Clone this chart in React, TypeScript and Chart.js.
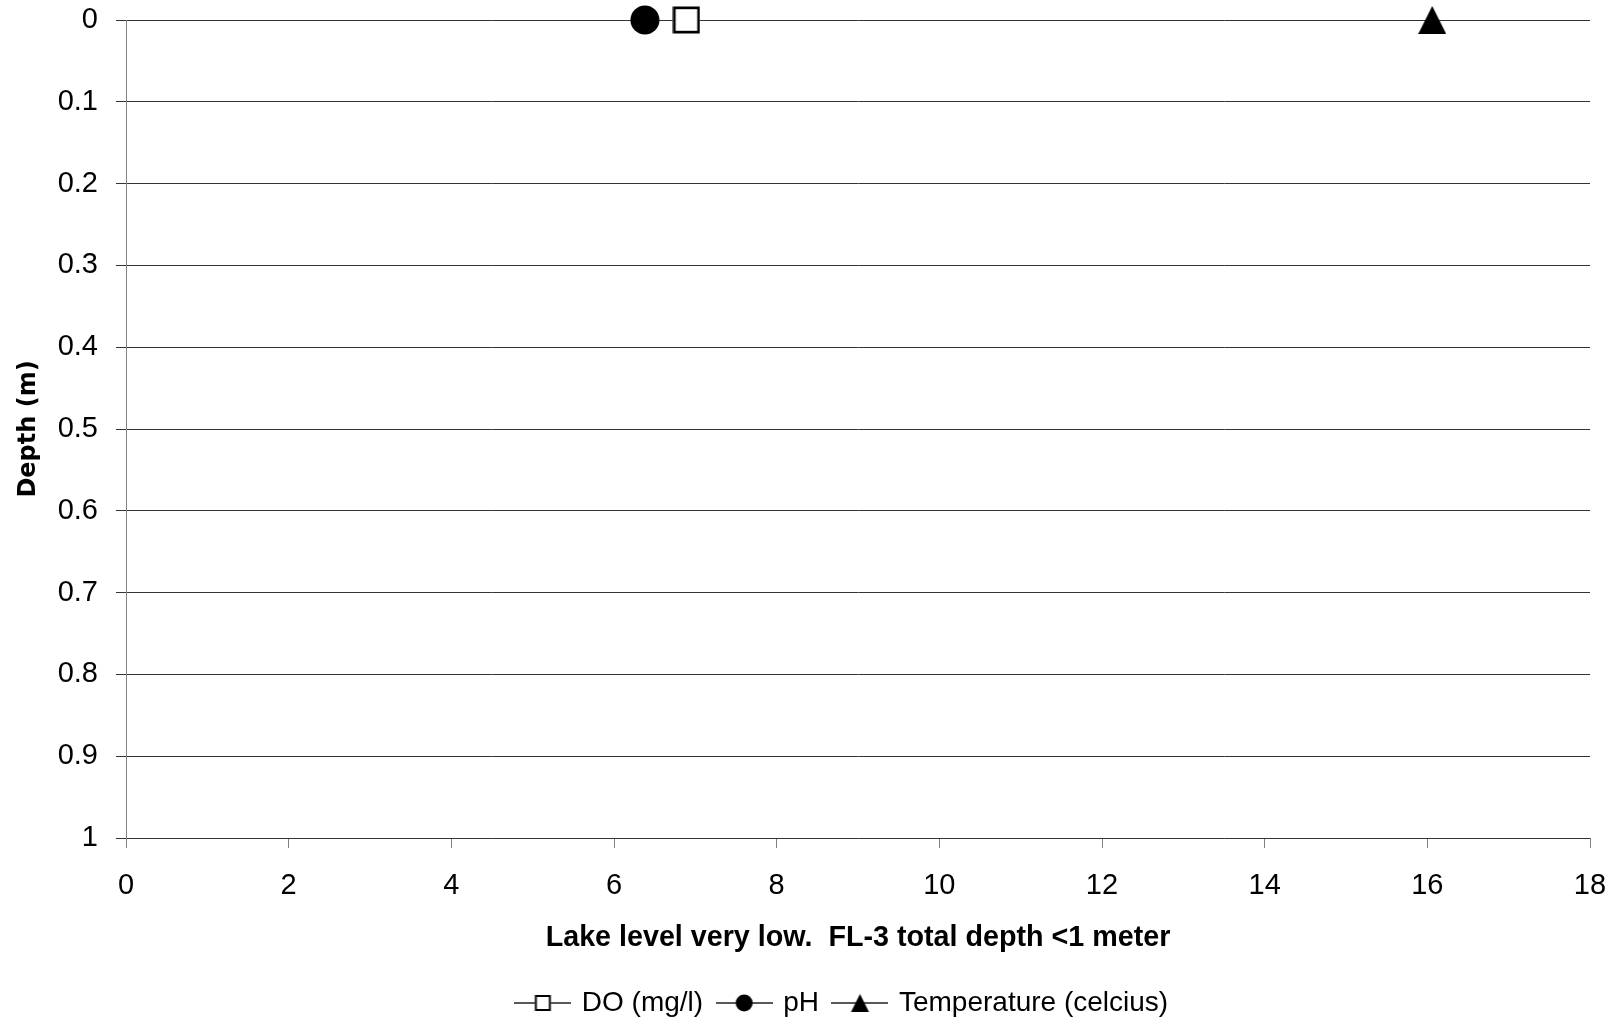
import React, { useEffect, useRef } from 'react';
import { Chart, registerables } from 'chart.js';

Chart.register(...registerables);

// ---- data ----
const depths = [0];
const doValues = [6.89];
const phValues = [6.38];
const tempValues = [16.06];
const seriesLabels = ['DO (mg/l)', 'pH', 'Temperature (celcius)'];
const xTickValues = [0, 2, 4, 6, 8, 10, 12, 14, 16, 18];
const xTickLabels = ['0', '2', '4', '6', '8', '10', '12', '14', '16', '18'];
const yTickValues = [0, 0.1, 0.2, 0.3, 0.4, 0.5, 0.6, 0.7, 0.8, 0.9, 1];
const yTickLabels = ['0', '0.1', '0.2', '0.3', '0.4', '0.5', '0.6', '0.7', '0.8', '0.9', '1'];
const xTitle = 'Lake level very low.  FL-3 total depth <1 meter';
const yTitle = 'Depth (m)';

type Kind = 'square' | 'circle' | 'triangle';

function drawShape(ctx: CanvasRenderingContext2D, kind: Kind, cx: number, cy: number, size: number, lw: number) {
  ctx.save();
  if (kind === 'square') {
    const h = size / 2;
    ctx.fillStyle = '#fff';
    ctx.fillRect(cx - h, cy - h, size, size);
    ctx.strokeStyle = '#000';
    ctx.lineWidth = lw;
    ctx.strokeRect(cx - h + lw / 2, cy - h + lw / 2, size - lw, size - lw);
  } else if (kind === 'circle') {
    ctx.fillStyle = '#000';
    ctx.beginPath();
    ctx.arc(cx, cy, size / 2, 0, Math.PI * 2);
    ctx.fill();
  } else {
    const h = size / 2;
    ctx.fillStyle = '#000';
    ctx.beginPath();
    ctx.moveTo(cx, cy - h);
    ctx.lineTo(cx + h, cy + h);
    ctx.lineTo(cx - h, cy + h);
    ctx.closePath();
    ctx.fill();
  }
  ctx.restore();
}

function makeMarker(kind: Kind): HTMLCanvasElement {
  const c = document.createElement('canvas');
  const s = kind === 'square' ? 28 : kind === 'circle' ? 30 : 28;
  c.width = s;
  c.height = s;
  const ctx = c.getContext('2d')!;
  drawShape(ctx, kind, s / 2, s / 2, kind === 'square' ? 27 : kind === 'circle' ? 29 : 28, 2.7);
  return c;
}

function makeLegendMarker(kind: Kind): HTMLCanvasElement {
  const c = document.createElement('canvas');
  c.width = 57;
  c.height = 22;
  const ctx = c.getContext('2d')!;
  ctx.strokeStyle = '#222';
  ctx.lineWidth = 1.3;
  ctx.beginPath();
  ctx.moveTo(0, 11);
  ctx.lineTo(57, 11);
  ctx.stroke();
  drawShape(ctx, kind, 28.5, 11, kind === 'square' ? 16 : kind === 'circle' ? 17 : 18, 2);
  return c;
}

const FONT = "'Liberation Sans', Arial, sans-serif";

const legendShift = {
  id: 'legendShift',
  afterLayout(chart: any) {
    if (chart.legend) {
      chart.legend.left = chart.chartArea.left - 30;
    }
  },
};

export default function App() {
  const ref = useRef<HTMLCanvasElement | null>(null);

  useEffect(() => {
    if (!ref.current) return;
    const kinds: Kind[] = ['square', 'circle', 'triangle'];
    const markers = kinds.map(makeMarker);
    const legendMarkers = kinds.map(makeLegendMarker);
    const values = [doValues, phValues, tempValues];

    const chart = new Chart(ref.current, {
      type: 'scatter',
      data: {
        datasets: values.map((vals, i) => ({
          label: seriesLabels[i],
          data: depths.map((d, j) => ({ x: vals[j], y: d })),
          pointStyle: markers[i] as any,
          pointRadius: 15,
          showLine: false,
          borderColor: '#000',
          backgroundColor: '#000',
          clip: false as any,
        })),
      },
      plugins: [legendShift],
      options: {
        animation: false,
        responsive: true,
        maintainAspectRatio: false,
        layout: { autoPadding: false, padding: { top: 20, right: 33, bottom: -4, left: 0 } },
        scales: {
          x: {
            type: 'linear',
            position: 'bottom',
            min: 0,
            max: 18,
            afterBuildTicks: (s: any) => {
              s.ticks = xTickValues.map((v) => ({ value: v }));
            },
            afterFit: (s: any) => {
              s.height = 135;
              s.paddingLeft = 0;
              s.paddingRight = 0;
            },
            title: {
              display: true,
              text: xTitle,
              color: '#000',
              font: { family: FONT, size: 28.7, weight: 'bold' },
              padding: { top: 0, bottom: 18 },
            },
            ticks: {
              padding: 21,
              color: '#000',
              font: { family: FONT, size: 29 },
              maxRotation: 0,
              autoSkip: false,
              callback: (_v: any, i: number) => xTickLabels[i],
            },
            grid: {
              drawOnChartArea: false,
              drawTicks: true,
              tickLength: 10,
              color: '#808080',
              lineWidth: 1,
            },
            border: { display: false },
          },
          y: {
            type: 'linear',
            reverse: true,
            min: 0,
            max: 1,
            afterBuildTicks: (s: any) => {
              s.ticks = yTickValues.map((v) => ({ value: v }));
            },
            afterFit: (s: any) => {
              s.width = 126;
              s.paddingTop = 0;
              s.paddingBottom = 0;
            },
            title: {
              display: true,
              text: yTitle,
              color: '#000',
              font: { family: "'DejaVu Sans', sans-serif", size: 24, weight: 'bold' },
              padding: { top: 14, bottom: 0 },
            },
            ticks: {
              padding: 18,
              color: '#000',
              font: { family: FONT, size: 29 },
              autoSkip: false,
              callback: (_v: any, i: number) => yTickLabels[i],
            },
            grid: {
              color: '#333',
              tickColor: '#333',
              tickLength: 10,
              lineWidth: 1,
              drawTicks: true,
            },
            border: { display: true, color: '#808080', width: 1 },
          },
        },
        plugins: {
          tooltip: { enabled: false },
          title: { display: false },
          legend: {
            display: true,
            position: 'bottom',
            fullSize: false,
            labels: {
              usePointStyle: true,
              pointStyleWidth: 50,
              color: '#000',
              padding: 16,
              font: { family: FONT, size: 28 },
              generateLabels: (c: any) => {
                const items = (Chart.defaults.plugins.legend.labels as any).generateLabels(c);
                return items.map((it: any, i: number) => ({ ...it, pointStyle: legendMarkers[i] }));
              },
            },
          },
        },
      },
    });
    return () => chart.destroy();
  }, []);

  return (
    <div style={{ position: 'fixed', left: 0, top: 0, width: 1623, height: 1023, background: '#fff' }}>
      <canvas ref={ref} />
    </div>
  );
}
